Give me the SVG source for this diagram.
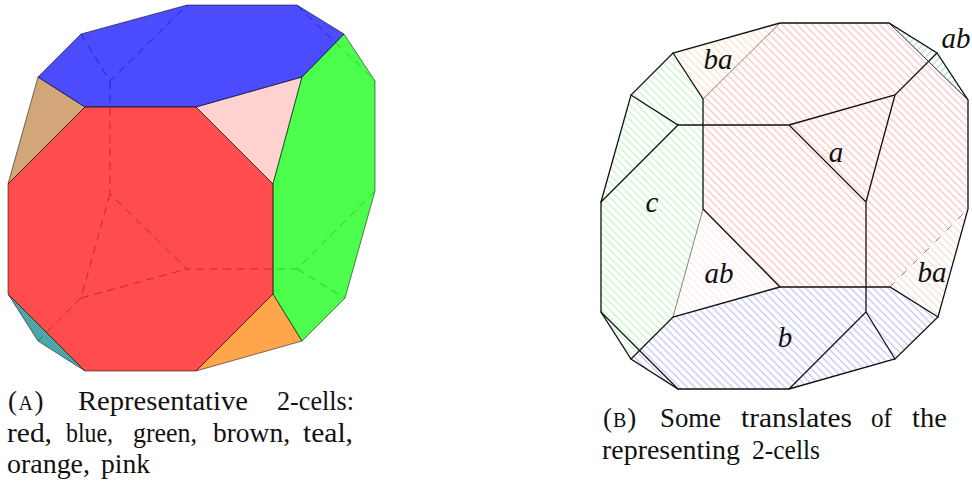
<svg xmlns="http://www.w3.org/2000/svg" width="972" height="483" viewBox="0 0 972 483">
<style>
.f{fill-opacity:.7;stroke:#000;stroke-width:.7;stroke-opacity:.75;stroke-linejoin:round}
.d{fill:none;stroke:#000;stroke-width:.7;stroke-opacity:.8;stroke-dasharray:8 5.5}
.e{fill:none;stroke:#111;stroke-width:1.3;stroke-linecap:round}
.g{fill:none;stroke:#666;stroke-width:.8}
.n{stroke:none}
.c{font-family:"Liberation Serif","Times New Roman",serif;font-size:27px;fill:#111}
.s{font-size:20px}
.m{font-family:"Liberation Serif","Times New Roman",serif;font-style:italic;font-size:29px;fill:#111;text-anchor:middle}
</style>
<defs>
<pattern id="pr" patternUnits="userSpaceOnUse" width="7.5" height="7.5"><path d="M-1 -1L8.5 8.5M-1 6.5L1 8.5M6.5 -1L8.5 1" stroke="#ffb0b0" stroke-width="1" fill="none"/></pattern>
<pattern id="pg" patternUnits="userSpaceOnUse" width="7.5" height="7.5"><path d="M-1 -1L8.5 8.5M-1 6.5L1 8.5M6.5 -1L8.5 1" stroke="#b4f5b4" stroke-width="1" fill="none"/></pattern>
<pattern id="pb" patternUnits="userSpaceOnUse" width="7.5" height="7.5"><path d="M-1 -1L8.5 8.5M-1 6.5L1 8.5M6.5 -1L8.5 1" stroke="#b4b4f5" stroke-width="1" fill="none"/></pattern>
<pattern id="po" patternUnits="userSpaceOnUse" width="7.5" height="7.5"><path d="M-1 -1L8.5 8.5M-1 6.5L1 8.5M6.5 -1L8.5 1" stroke="#ffd9b5" stroke-width="1" fill="none"/></pattern>
<pattern id="pi" patternUnits="userSpaceOnUse" width="7.5" height="7.5"><path d="M-1 -1L8.5 8.5M-1 6.5L1 8.5M6.5 -1L8.5 1" stroke="#ffe3e3" stroke-width="1" fill="none"/></pattern>
<pattern id="pn" patternUnits="userSpaceOnUse" width="7.5" height="7.5"><path d="M-1 -1L8.5 8.5M-1 6.5L1 8.5M6.5 -1L8.5 1" stroke="#ecd9c4" stroke-width="1" fill="none"/></pattern>
<pattern id="pt" patternUnits="userSpaceOnUse" width="7.5" height="7.5"><path d="M-1 8.5L8.5 -1M-1 1L1 -1M6.5 8.5L8.5 6.5" stroke="#a5d6d6" stroke-width="1" fill="none"/></pattern>
</defs>

<g id="left">
<g id="hidden-edges">
<path class="d" d="M81 34L110 81L187 5M110 81V194L187 269H297L375 191M110 194L81 298L187 269M81 298L38 341M297 269L345 298M297 5L375 81"/>
</g>
<polygon id="brown" class="f" fill="#bf8040" points="38,77 85,107 8,184"/>
<polygon id="teal" class="f" fill="#008080" points="8,294 38,341 85,371"/>
<polygon id="orange" class="f" fill="#ff8000" points="273,294 302,341 196,371"/>
<polygon id="pink" class="f" fill="#ffbfbf" points="196,107 302,77 273,184"/>
<polygon id="green" class="f" fill="#00ff00" points="302,77 344,34 375,81 375,191 345,298 302,341 273,294 273,184"/>
<polygon id="blue" class="f" fill="#0000ff" points="38,77 81,34 187,5 297,5 344,34 302,77 196,107 85,107"/>
<polygon id="red" class="f" fill="#ff0000" points="85,107 196,107 273,184 273,294 196,371 85,371 8,294 8,184"/>
</g>

<g id="right">
<g id="hatches">
<polygon id="h-orange" class="n" fill="url(#po)" points="673,53 780,23 703,99"/>
<polygon id="h-teal" class="n" fill="url(#pt)" points="889,23 937,53 968,100"/>
<polygon id="h-pink" class="n" fill="url(#pi)" points="703,209 780,287 673,317"/>
<polygon id="h-brown" class="n" fill="url(#pn)" points="890,287 968,209 938,317"/>
<polygon id="h-red" class="n" fill="url(#pr)" points="703,99 780,23 889,23 968,100 968,209 890,287 780,287 703,209"/>
<polygon id="h-green" class="n" fill="url(#pg)" points="673,53 703,99 703,209 673,317 631,359 601,312 601,202 631,95"/>
<polygon id="h-blue" class="n" fill="url(#pb)" points="631,359 673,317 780,287 890,287 938,317 895,359 789,389 678,389"/>
</g>
<g id="edges">
<path class="g" d="M780 23L703 99M703 209L673 317"/>
<path class="g" stroke-dasharray="7 9" d="M890 287L968 209"/>
<path class="e" style="stroke-width:.9" d="M889 23L968 100"/>
<path class="e" d="M601 202L631 95L673 53L780 23H889L937 53L968 100V209L938 317L895 359L789 389H678L631 359L601 312Z"/>
<path class="e" d="M631 95L678 125H789L895 95L937 53M601 202L678 125M789 125L866 202V312L789 389M866 202L895 95M866 312L895 359M601 312L678 389M673 53L703 99V209L780 287H890L938 317M631 359L673 317L780 287"/>
</g>
<g id="labels">
<text class="m" x="718" y="69">ba</text>
<text class="m" x="956" y="48">ab</text>
<text class="m" x="836" y="162">a</text>
<text class="m" x="652" y="212">c</text>
<text class="m" x="719" y="283">ab</text>
<text class="m" x="932" y="282">ba</text>
<text class="m" x="785" y="347">b</text>
</g>
</g>

<g id="caption-a">
<text class="c" y="410"><tspan x="8">(</tspan><tspan class="s" dx="1.5">A</tspan><tspan dx="1.5">)</tspan></text>
<text class="c" x="78" y="410" textLength="170" lengthAdjust="spacingAndGlyphs">Representative</text>
<text class="c" x="277" y="410" textLength="77" lengthAdjust="spacingAndGlyphs">2-cells:</text>
<text class="c" x="7" y="441.5" textLength="45" lengthAdjust="spacingAndGlyphs">red,</text>
<text class="c" x="66" y="441.5" textLength="47" lengthAdjust="spacingAndGlyphs">blue,</text>
<text class="c" x="133" y="441.5" textLength="64" lengthAdjust="spacingAndGlyphs">green,</text>
<text class="c" x="213" y="441.5" textLength="77" lengthAdjust="spacingAndGlyphs">brown,</text>
<text class="c" x="303" y="441.5" textLength="50" lengthAdjust="spacingAndGlyphs">teal,</text>
<text class="c" x="7" y="473" textLength="83" lengthAdjust="spacingAndGlyphs">orange,</text>
<text class="c" x="101" y="473" textLength="49" lengthAdjust="spacingAndGlyphs">pink</text>
</g>
<g id="caption-b">
<text class="c" y="427"><tspan x="603">(</tspan><tspan class="s" dx="1">B</tspan><tspan dx="1">)</tspan></text>
<text class="c" x="660" y="427" textLength="61" lengthAdjust="spacingAndGlyphs">Some</text>
<text class="c" x="741" y="427" textLength="111" lengthAdjust="spacingAndGlyphs">translates</text>
<text class="c" x="871" y="427" textLength="21" lengthAdjust="spacingAndGlyphs">of</text>
<text class="c" x="912" y="427" textLength="35" lengthAdjust="spacingAndGlyphs">the</text>
<text class="c" x="602" y="459" textLength="138" lengthAdjust="spacingAndGlyphs">representing</text>
<text class="c" x="752" y="459" textLength="68" lengthAdjust="spacingAndGlyphs">2-cells</text>
</g>
</svg>
